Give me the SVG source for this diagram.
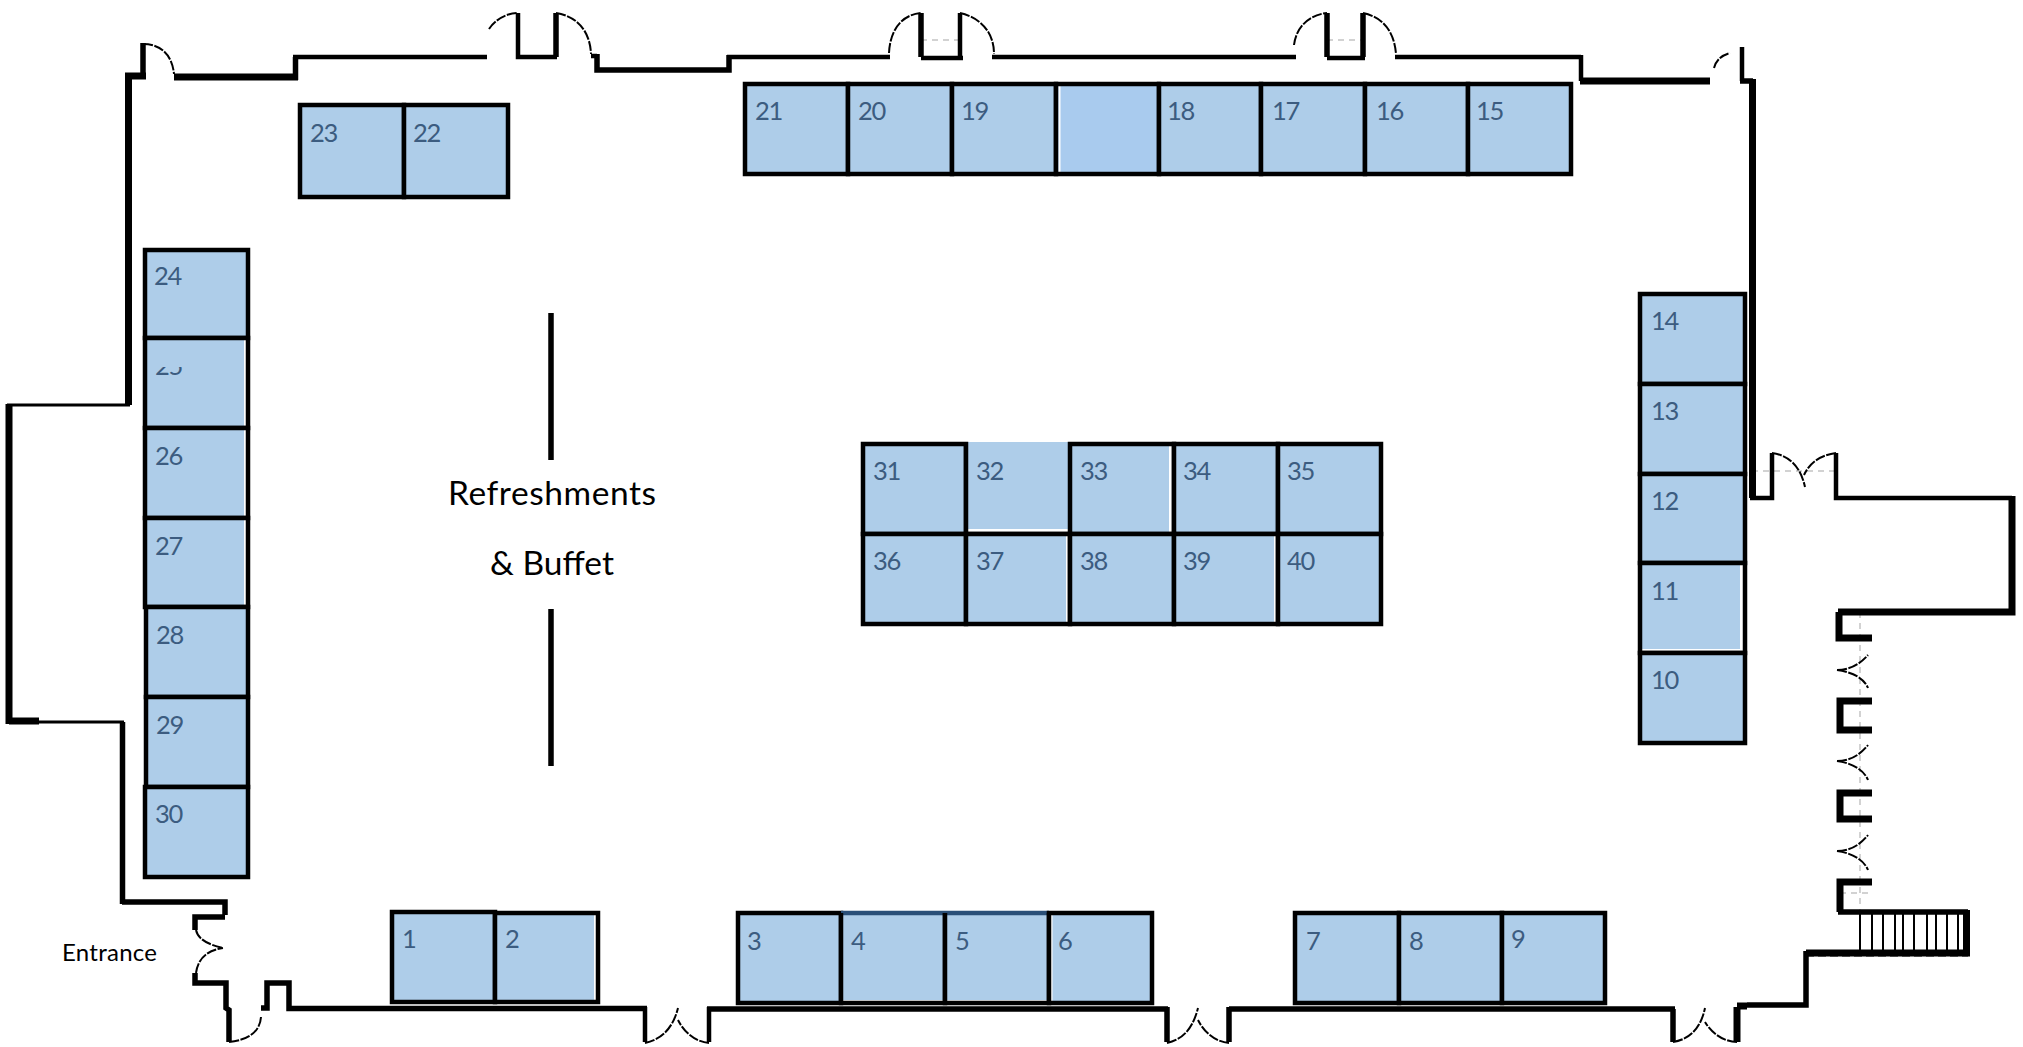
<svg xmlns="http://www.w3.org/2000/svg" width="2023" height="1047" viewBox="0 0 2023 1047">
<style>
.w{fill:none;stroke:#000;stroke-linejoin:miter;stroke-linecap:butt}
.t3{stroke-width:3}.t4{stroke-width:4.500}.t5{stroke-width:5.500}.t6{stroke-width:7}
.d{fill:none;stroke:#000;stroke-width:2;stroke-dasharray:10 1.500}
.g{fill:none;stroke:#c4c4c4;stroke-width:1.500;stroke-dasharray:6 5}
.b{fill:#aecde9}
.bl{fill:none;stroke:#000;stroke-width:4.500;stroke-linejoin:miter}
.nv{fill:none;stroke:#2a4f78;stroke-width:4.500}
.s{fill:#fff}
.n{font-family:"Lato","Liberation Sans",sans-serif;font-size:25.500px;letter-spacing:-1.300px;fill:#3c5c80}
.l{font-family:"Lato","Liberation Sans",sans-serif;fill:#000}
</style>
<defs>
<clipPath id="cut25"><rect x="150" y="367" width="60" height="12"/></clipPath>
</defs>
<rect width="2023" height="1047" fill="#fff"/>

<g id="guides">
<path class="g" d="M921 40H960M1327 40H1363M1752 471H1836M1860 612V950M1840 703H1872M1840 893H1872"/>
<path d="M1806 956H1968" fill="none" stroke="#666" stroke-width="1.500" stroke-dasharray="8 4"/>
</g>

<g id="walls">
<path class="w t6" d="M146 76H128.500V405"/>
<path class="w t5" d="M143 43V76"/>
<path class="w t6" d="M174 77H298"/>
<path class="w t5" d="M295.500 80V57"/>
<path class="w t4" d="M293 57H487"/>
<path class="w t4" d="M518 13V57H557"/>
<path class="w t5" d="M556 13V57"/>
<path class="w t4" d="M591 56H597"/>
<path class="w t5" d="M597 54V70H729V55"/>
<path class="w t4" d="M727 57H890"/>
<path class="w t4" d="M921 58H963"/>
<path class="w t5" d="M921 13V57"/>
<path class="w t4" d="M960 13V57"/>
<path class="w t4" d="M992 57H1296"/>
<path class="w t4" d="M1327 58H1365"/>
<path class="w t5" d="M1327 13V57M1363 13V57"/>
<path class="w t4" d="M1395 57H1581"/>
<path class="w t4" d="M1581 55V81"/>
<path class="w t6" d="M1580 81H1710"/>
<path class="w t4" d="M1742 47V81"/>
<path class="w t5" d="M1740 81H1753"/>
<path class="w t6" d="M1752.500 79V498"/>
<path class="w t4" d="M1750 498H1772V453"/>
<path class="w t4" d="M1836 453V498H2012"/>
<path class="w t6" d="M2012 496V612H1838"/>
<path class="w t6" d="M1839 612V638H1872"/>
<path class="w t6" d="M1872 701H1840V730H1872"/>
<path class="w t6" d="M1872 793H1840V819H1872"/>
<path class="w t6" d="M1872 882H1840V912"/>
<path class="w t5" d="M1838 912H1968"/>
<path class="w t6" d="M1966.500 910V955"/>
<path class="w t6" d="M1970 953H1806"/>
<path class="w t5" d="M1806 951V1005H1747"/>
<path class="w t6" d="M1747 1006H1737"/>
<path class="w t6" d="M1737 1007V1042"/>
<path class="w t5" d="M1673 1009V1042"/>
<path class="w t5" d="M1675 1009H1229"/>
<path class="w t5" d="M1229 1007V1042M1167 1007V1042"/>
<path class="w t5" d="M1168 1009H707"/>
<path class="w t4" d="M709 1007V1042M645 1007V1042"/>
<path class="w t5" d="M647 1008.500H289V983H267V1008H261"/>
<path class="w t5" d="M229 1042V1010L226 1008V983H195V973"/>
<path class="w t5" d="M195 930V917H225"/>
<path class="w t5" d="M225 915V902H122"/>
<path class="w t5" d="M122.500 904V722"/>
<path class="w t3" d="M124 722H39"/>
<path class="w t6" d="M39 721H9"/>
<path class="w t6" d="M9 724V404"/>
<path class="w t3" d="M7 405H130"/>
<g id="stairs" fill="none" stroke="#000" stroke-width="2">
<path d="M1860 912V953M1872 912V953M1883 912V953M1895 912V953M1903 912V953M1914 912V953M1927 912V953M1936 912V953M1947 912V953M1958 912V953"/>
</g>
</g>

<g id="doors">
<path class="d" d="M143 44C160 44 172 54 174 74"/>
<path class="d" d="M489 29C495 20 506 13 518 13"/>
<path class="d" d="M556 13C576 16 590 30 591 54"/>
<path class="d" d="M889 53C890 32 900 15 921 13"/>
<path class="d" d="M960 13C978 17 994 30 994 54"/>
<path class="d" d="M1294 45C1296 28 1308 15 1327 13"/>
<path class="d" d="M1363 13C1382 17 1394 30 1396 54"/>
<path class="d" d="M1714 68C1716 60 1722 55 1730 53"/>
<path class="d" d="M1772 453C1787 455 1800 464 1805 487"/>
<path class="d" d="M1836 453C1821 455 1810 462 1804 475"/>
<path class="d" d="M1837 670C1850 670 1860 664 1868 655"/>
<path class="d" d="M1837 670C1852 672 1864 678 1868 688"/>
<path class="d" d="M1837 761C1850 761 1860 755 1868 745"/>
<path class="d" d="M1837 761C1852 763 1864 770 1868 780"/>
<path class="d" d="M1837 851C1850 851 1860 845 1868 835"/>
<path class="d" d="M1837 851C1852 853 1864 860 1868 870"/>
<path class="d" d="M1673 1042C1686 1040 1700 1032 1705 1008"/>
<path class="d" d="M1737 1042C1725 1042 1712 1034 1705 1022"/>
<path class="d" d="M1167 1043C1180 1040 1192 1032 1198 1008"/>
<path class="d" d="M1229 1043C1217 1042 1205 1034 1198 1020"/>
<path class="d" d="M645 1043C658 1040 672 1032 678 1008"/>
<path class="d" d="M709 1043C697 1042 685 1034 678 1020"/>
<path class="d" d="M261 1017C260 1032 248 1040 229 1042"/>
<path class="d" d="M196 930C198 940 210 945 223 948"/>
<path class="d" d="M196 973C198 958 208 950 223 948"/>
</g>

<g id="booth-23"><rect class="b" x="300" y="105" width="104" height="92"/><text class="n" x="310" y="142">23</text><rect class="bl" x="300" y="105" width="104" height="92"/></g>
<g id="booth-22"><rect class="b" x="404" y="105" width="104" height="92"/><text class="n" x="413" y="142">22</text><rect class="bl" x="404" y="105" width="104" height="92"/></g>

<g id="booth-21"><rect class="b" x="745" y="84" width="103" height="90"/><text class="n" x="755" y="120">21</text><rect class="bl" x="745" y="84" width="103" height="90"/></g>
<g id="booth-20"><rect class="b" x="848" y="84" width="104" height="90"/><text class="n" x="858" y="120">20</text><rect class="bl" x="848" y="84" width="104" height="90"/></g>
<g id="booth-19"><rect class="b" x="952" y="84" width="104" height="90"/><text class="n" x="961" y="120">19</text><rect class="bl" x="952" y="84" width="104" height="90"/></g>
<g id="booth-blank"><rect x="1056" y="84" width="103" height="90" fill="#a9cbee"/><rect class="s" x="1058.500" y="86" width="2" height="86"/><rect class="bl" x="1056" y="84" width="103" height="90"/></g>
<g id="booth-18"><rect class="b" x="1159" y="84" width="102" height="90"/><text class="n" x="1167" y="120">18</text><rect class="bl" x="1159" y="84" width="102" height="90"/></g>
<g id="booth-17"><rect class="b" x="1261" y="84" width="104" height="90"/><text class="n" x="1272" y="120">17</text><rect class="bl" x="1261" y="84" width="104" height="90"/></g>
<g id="booth-16"><rect class="b" x="1365" y="84" width="103" height="90"/><text class="n" x="1376" y="120">16</text><rect class="bl" x="1365" y="84" width="103" height="90"/></g>
<g id="booth-15"><rect class="b" x="1468" y="84" width="103" height="90"/><text class="n" x="1476" y="120">15</text><rect class="bl" x="1468" y="84" width="103" height="90"/></g>

<g id="booth-24"><rect class="b" x="145" y="250" width="103" height="88"/><text class="n" x="154" y="285">24</text><rect class="bl" x="145" y="250" width="103" height="88"/></g>
<g id="booth-25"><rect class="b" x="145" y="338" width="103" height="90"/><rect class="s" x="244" y="340" width="3" height="86"/><text class="n" x="155" y="375" clip-path="url(#cut25)">25</text><rect class="bl" x="145" y="338" width="103" height="90"/></g>
<g id="booth-26"><rect class="b" x="145" y="428" width="103" height="90"/><rect class="s" x="244" y="430" width="3" height="86"/><text class="n" x="155" y="465">26</text><rect class="bl" x="145" y="428" width="103" height="90"/></g>
<g id="booth-27"><rect class="b" x="145" y="518" width="103" height="89"/><rect class="s" x="244" y="520" width="3" height="85"/><text class="n" x="155" y="555">27</text><rect class="bl" x="145" y="518" width="103" height="89"/></g>
<g id="booth-28"><rect class="b" x="146" y="607" width="102" height="90"/><text class="n" x="156" y="644">28</text><rect class="bl" x="146" y="607" width="102" height="90"/></g>
<g id="booth-29"><rect class="b" x="146" y="697" width="102" height="90"/><text class="n" x="156" y="734">29</text><rect class="bl" x="146" y="697" width="102" height="90"/></g>
<g id="booth-30"><rect class="b" x="145" y="787" width="103" height="90"/><text class="n" x="155" y="823">30</text><rect class="bl" x="145" y="787" width="103" height="90"/></g>

<g id="booth-14"><rect class="b" x="1640" y="294" width="105" height="90"/><text class="n" x="1651" y="330">14</text><rect class="bl" x="1640" y="294" width="105" height="90"/></g>
<g id="booth-13"><rect class="b" x="1640" y="384" width="105" height="90"/><text class="n" x="1651" y="420">13</text><rect class="bl" x="1640" y="384" width="105" height="90"/></g>
<g id="booth-12"><rect class="b" x="1640" y="474" width="105" height="89"/><text class="n" x="1651" y="510">12</text><rect class="bl" x="1640" y="474" width="105" height="89"/></g>
<g id="booth-11"><rect class="b" x="1640" y="563" width="105" height="90"/><rect class="s" x="1740" y="565" width="3" height="85"/><rect class="s" x="1642" y="649" width="101" height="2.500"/><text class="n" x="1651" y="600">11</text><rect class="bl" x="1640" y="563" width="105" height="90"/></g>
<g id="booth-10"><rect class="b" x="1640" y="653" width="105" height="90"/><text class="n" x="1651" y="689">10</text><rect class="bl" x="1640" y="653" width="105" height="90"/></g>

<g id="booth-31"><rect class="b" x="863" y="444" width="103" height="90"/><text class="n" x="873" y="480">31</text><rect class="bl" x="863" y="444" width="103" height="90"/></g>
<g id="booth-32"><rect class="b" x="966" y="442" width="104" height="92"/><rect class="s" x="968" y="529" width="100" height="3"/><text class="n" x="976" y="480">32</text><path class="bl" d="M966 442V534H1070"/></g>
<g id="booth-33"><rect class="b" x="1070" y="444" width="104" height="90"/><rect class="s" x="1169" y="446" width="3" height="86"/><text class="n" x="1080" y="480">33</text><rect class="bl" x="1070" y="444" width="104" height="90"/></g>
<g id="booth-34"><rect class="b" x="1174" y="444" width="104" height="90"/><text class="n" x="1183" y="480">34</text><rect class="bl" x="1174" y="444" width="104" height="90"/></g>
<g id="booth-35"><rect class="b" x="1278" y="444" width="103" height="90"/><text class="n" x="1287" y="480">35</text><rect class="bl" x="1278" y="444" width="103" height="90"/></g>
<g id="booth-36"><rect class="b" x="863" y="534" width="103" height="90"/><text class="n" x="873" y="570">36</text><rect class="bl" x="863" y="534" width="103" height="90"/></g>
<g id="booth-37"><rect class="b" x="966" y="534" width="104" height="90"/><rect class="s" x="1066" y="536" width="2" height="86"/><text class="n" x="976" y="570">37</text><rect class="bl" x="966" y="534" width="104" height="90"/></g>
<g id="booth-38"><rect class="b" x="1070" y="534" width="104" height="90"/><text class="n" x="1080" y="570">38</text><rect class="bl" x="1070" y="534" width="104" height="90"/></g>
<g id="booth-39"><rect class="b" x="1174" y="534" width="104" height="90"/><rect class="s" x="1274" y="536" width="2" height="86"/><text class="n" x="1183" y="570">39</text><rect class="bl" x="1174" y="534" width="104" height="90"/></g>
<g id="booth-40"><rect class="b" x="1278" y="534" width="103" height="90"/><text class="n" x="1287" y="570">40</text><rect class="bl" x="1278" y="534" width="103" height="90"/></g>

<g id="booth-1"><rect class="b" x="392" y="912" width="103" height="90"/><text class="n" x="402" y="948">1</text><rect class="bl" x="392" y="912" width="103" height="90"/></g>
<g id="booth-2"><rect class="b" x="495" y="913" width="103" height="89"/><rect class="s" x="594" y="915" width="2" height="85"/><text class="n" x="505" y="948">2</text><rect class="bl" x="495" y="913" width="103" height="89"/></g>
<g id="booth-3"><rect class="b" x="738" y="913" width="103" height="90"/><text class="n" x="747" y="950">3</text><rect class="bl" x="738" y="913" width="103" height="90"/></g>
<g id="booth-4"><rect class="b" x="841" y="913" width="104" height="90"/><rect class="s" x="843" y="1000" width="100" height="1.500"/><text class="n" x="851" y="950">4</text><path class="nv" d="M841 913H945"/><path class="bl" d="M841 913V1003H945V913"/></g>
<g id="booth-5"><rect class="b" x="945" y="913" width="104" height="90"/><rect class="s" x="947" y="1000" width="100" height="1.500"/><text class="n" x="955" y="950">5</text><path class="nv" d="M945 913H1049"/><path class="bl" d="M945 913V1003H1049V913"/></g>
<g id="booth-6"><rect class="b" x="1049" y="913" width="103" height="90"/><rect class="s" x="1051" y="915" width="1.500" height="86"/><text class="n" x="1058" y="950">6</text><rect class="bl" x="1049" y="913" width="103" height="90"/></g>
<g id="booth-7"><rect class="b" x="1295" y="913" width="104" height="90"/><text class="n" x="1306" y="950">7</text><rect class="bl" x="1295" y="913" width="104" height="90"/></g>
<g id="booth-8"><rect class="b" x="1399" y="913" width="103" height="90"/><text class="n" x="1409" y="950">8</text><rect class="bl" x="1399" y="913" width="103" height="90"/></g>
<g id="booth-9"><rect class="b" x="1502" y="913" width="103" height="90"/><text class="n" x="1511" y="948">9</text><rect class="bl" x="1502" y="913" width="103" height="90"/></g>

<g id="refreshments">
<path d="M551 313V460M551 609V766" fill="none" stroke="#000" stroke-width="5.500"/>
<text class="l" x="448" y="505" font-size="33.500" textLength="208">Refreshments</text>
<text class="l" x="490" y="575" font-size="33.500" textLength="124">&amp; Buffet</text>
</g>
<text class="l" id="entrance" x="62" y="961" font-size="24" textLength="95">Entrance</text>
</svg>
